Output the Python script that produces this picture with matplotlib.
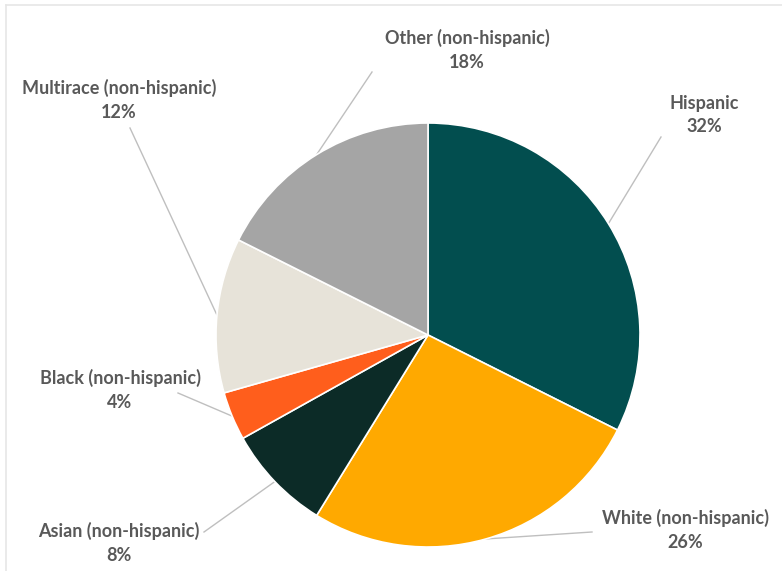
import matplotlib
matplotlib.use("Agg")
import matplotlib.pyplot as plt
import numpy as np

categories = ["Hispanic", "White (non-hispanic)", "Asian (non-hispanic)",
              "Black (non-hispanic)", "Multirace (non-hispanic)", "Other (non-hispanic)"]
values = [32.4, 26.4, 8.1, 3.7, 11.8, 17.6]
colors = ["#024E4F", "#FFA900", "#0C2B27", "#FF5E1C", "#E7E3D9", "#A5A5A5"]

# label centres and leader starts in pixel coords (x, y from top)
label_px = [(704, 115), (685, 530), (119, 543), (120, 390), (119, 100), (467, 50)]
leader_px = [(661, 137), (592, 532), (204, 532), (178, 393), (130, 128), (372, 72)]

W, H = 782, 571
cx, cy, R = 428, 335, 212

fig = plt.figure(figsize=(W / 100, H / 100), dpi=100)
ax = fig.add_axes([(cx - R) / W, (H - cy - R) / H, 2 * R / W, 2 * R / H])
wedges, _ = ax.pie(values, colors=colors, startangle=90, counterclock=False,
                   radius=1, wedgeprops=dict(edgecolor="white", linewidth=1.2))
ax.set_xlim(-1, 1)
ax.set_ylim(-1, 1)
ax.set_aspect("equal")
ax.axis("off")

def to_data(px, py):
    return (px - cx) / R, (cy - py) / R

for w, cat, val, lp, sp in zip(wedges, categories, values, label_px, leader_px):
    ang = np.deg2rad((w.theta1 + w.theta2) / 2)
    ex, ey = np.cos(ang), np.sin(ang)
    sx, sy = to_data(*sp)
    ax.plot([sx, ex], [sy, ey], color="#BFBFBF", lw=1, clip_on=False, zorder=0)
    tx, ty = to_data(*lp)
    ax.text(tx, ty, f"{cat}\n{round(val)}%", ha="center", va="center", fontsize=13,
            fontweight="bold", color="#595959", family=["Lato", "DejaVu Sans"],
            linespacing=1.45, clip_on=False)

# light frame on top and left
fig.add_artist(plt.Line2D([6 / W, 1], [1 - 5 / H, 1 - 5 / H], transform=fig.transFigure,
                          color="#E6E6E6", lw=1.2))
fig.add_artist(plt.Line2D([6 / W, 6 / W], [0, 1 - 5 / H], transform=fig.transFigure,
                          color="#E6E6E6", lw=1.2))

fig.savefig("out.png", dpi=100, facecolor="white")
